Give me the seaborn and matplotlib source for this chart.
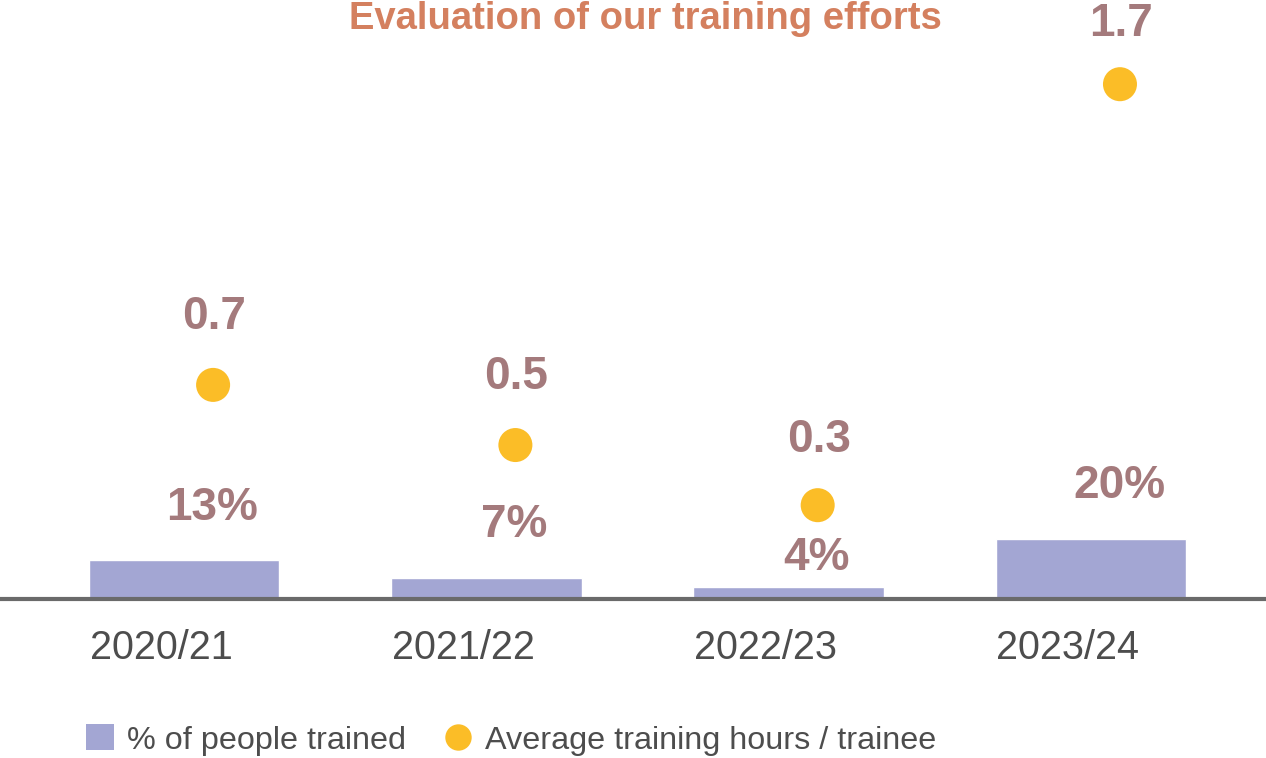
import numpy as np
import pandas as pd
import seaborn as sns
import matplotlib.pyplot as plt
from matplotlib.patches import Patch
from matplotlib.lines import Line2D
from matplotlib.transforms import ScaledTranslation

# data
years = ["2020/21", "2021/22", "2022/23", "2023/24"]
pct_trained = [13, 7, 4, 20]
avg_hours = [0.7, 0.5, 0.3, 1.7]

# colours
bar_color = "#a3a6d3"
dot_color = "#fbbd27"
label_color = "#a47a7c"
title_color = "#d4805f"
text_gray = "#4d4d4d"

sns.set_style("white")
plt.rcParams['font.family'] = ['Liberation Sans', 'DejaVu Sans']

df = pd.DataFrame({'year': years, 'pct': pct_trained, 'hours': avg_hours})

fig = plt.figure(figsize=(12.66, 7.58), dpi=100)
ax = fig.add_axes([0, 1 - 599 / 758, 1, 599 / 758])

sns.barplot(data=df, x='year', y='pct', color=bar_color, width=0.63,
            saturation=1, ax=ax, zorder=2)
ax.set_xlim(-0.609, 3.579)
ax.set_ylim(0, 200)

ax2 = ax.twinx()
sns.scatterplot(data=df, x='year', y='hours', color=dot_color, s=600,
                edgecolor='none', ax=ax2, zorder=3, legend=False)
ax2.set_ylim(-0.012, 1.98)
ax2.set_xlim(-0.609, 3.579)

# dots sit a little to the right of the bar centres
shift = ScaledTranslation(0.29, 0, fig.dpi_scale_trans)
for coll in ax2.collections:
    coll.set_offset_transform(coll.get_offset_transform() + shift)

for a in (ax, ax2):
    a.set_xlabel('')
    a.set_ylabel('')
    a.set_yticks([])
    for s in a.spines.values():
        s.set_visible(False)
ax.set_xticks([])

# baseline
ax.axhline(0, color='#6a6a6a', lw=3, zorder=4, clip_on=False)

# bar labels (shifted right of the bar centre)
label_dy = [52, 53, 29, 53]
for i, v in enumerate(pct_trained):
    ax.annotate(f"{v}%", (i, v), xytext=(28, label_dy[i]), textcoords='offset pixels',
                ha='center', va='center', fontsize=33, fontweight='bold', color=label_color)

# dot labels
dot_dy = [68, 68, 65, 60]
for i, v in enumerate(avg_hours):
    ax2.annotate(f"{v}", (i, v), xytext=(30, dot_dy[i]), textcoords='offset pixels',
                 ha='center', va='center', fontsize=33, fontweight='bold', color=label_color)

# category labels
for i, y in enumerate(years):
    ax.annotate(y, (i, 0), xytext=(-23, -49), textcoords='offset pixels',
                ha='center', va='center', fontsize=28.5, color=text_gray)

# title (sits at the very top edge)
fig.text(0.51, 1 - 29 / 758, "Evaluation of our training efforts", ha='center',
         va='baseline', fontsize=27.5, fontweight='bold', color=title_color)

handles = [
    Patch(facecolor=bar_color, edgecolor='none', label='% of people trained'),
    Line2D([], [], marker='o', linestyle='none', markersize=19, markerfacecolor=dot_color,
           markeredgecolor='none', label='Average training hours / trainee'),
]
fig.legend(handles=handles, loc='center left', bbox_to_anchor=(0.068, 1 - 740 / 758),
           ncol=2, frameon=False, fontsize=23.3, labelcolor=text_gray,
           handlelength=0.85, handleheight=0.85, handletextpad=0.4, columnspacing=1.2,
           borderaxespad=0, borderpad=0)

fig.savefig('out.png', dpi=100)
